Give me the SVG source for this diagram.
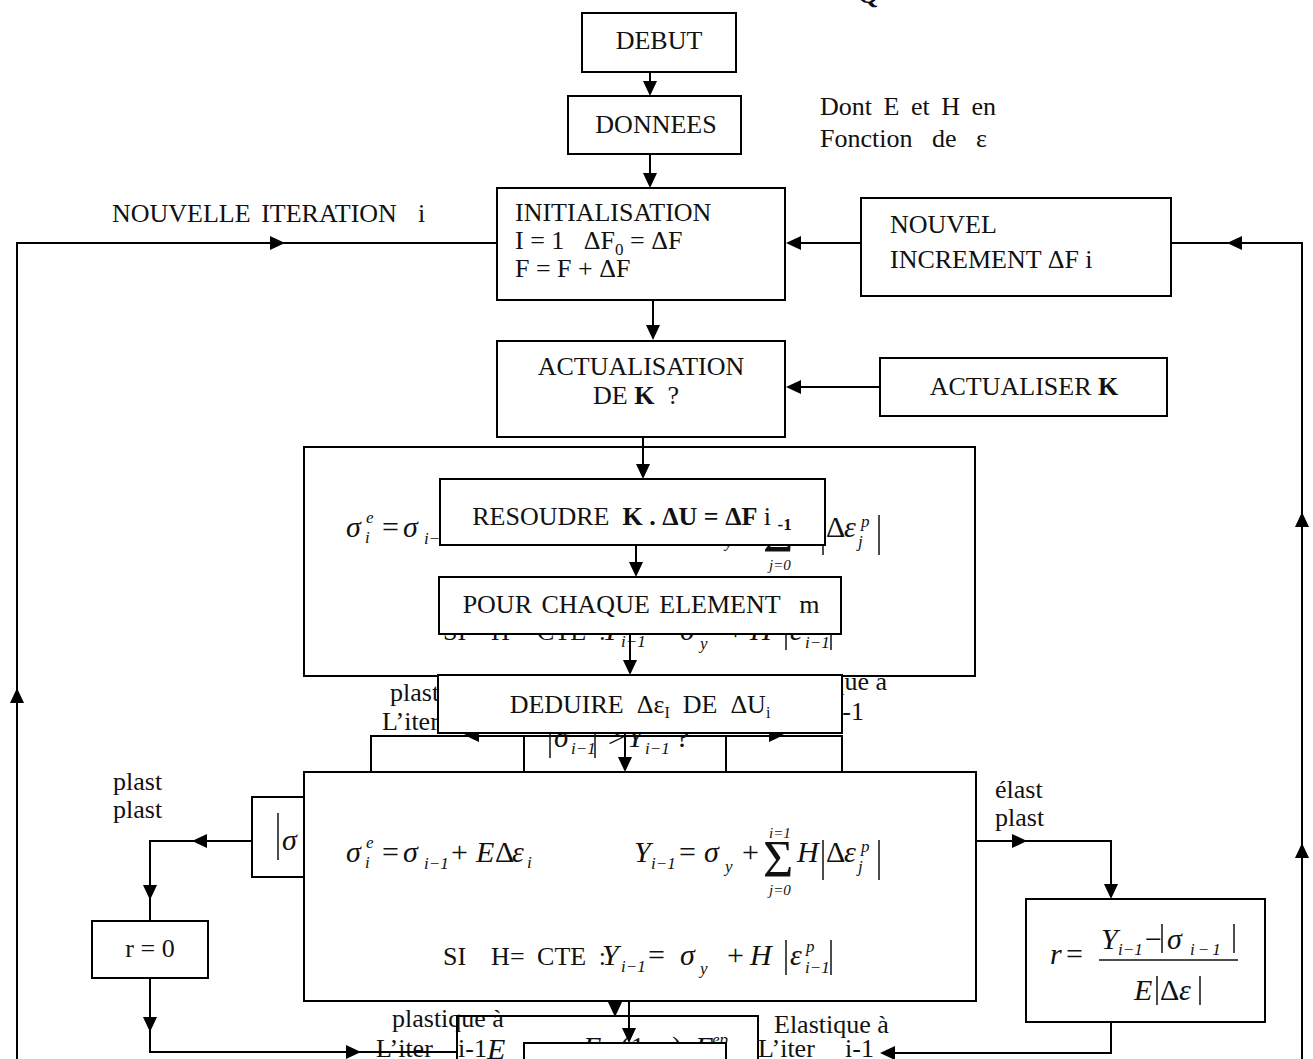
<svg xmlns="http://www.w3.org/2000/svg" xmlns:xlink="http://www.w3.org/1999/xlink" width="1313" height="1059" viewBox="0 0 1313 1059">
<style>
.b{fill:#fff;stroke:#000;stroke-width:2}
.o{fill:none;stroke:#000;stroke-width:2}
.c{fill:none;stroke:#000;stroke-width:2}
.t{font-family:"Liberation Serif","Times New Roman",serif;font-size:26px;fill:#111}
.m{font-family:"Liberation Serif","Times New Roman",serif;font-style:italic;font-size:30px;fill:#111}
.u{font-family:"Liberation Serif","Times New Roman",serif;font-size:30px;fill:#111}
.s{font-family:"Liberation Serif","Times New Roman",serif;font-style:italic;font-size:17px;fill:#111}
.sg{font-family:"Liberation Serif","Times New Roman",serif;font-size:52px;fill:#111}
.lim{font-family:"Liberation Serif","Times New Roman",serif;font-style:italic;font-size:15px;fill:#111}
.bar{stroke:#111;stroke-width:1.5}
.bd{font-weight:bold}
</style>
<defs>
<path id="ah" d="M0,0 L-15,-7 L-15,7 Z" fill="#000"/>
</defs>
<rect width="1313" height="1059" fill="#fff"/>

<text class="t bd" x="858" y="3">Q</text>

<g id="debut"><rect class="b" x="582" y="13" width="154" height="59"/><text class="t" x="659" y="49" text-anchor="middle">DEBUT</text></g>
<g id="donnees"><rect class="b" x="568" y="96" width="173" height="58"/><text class="t" x="656" y="133" text-anchor="middle">DONNEES</text></g>
<g id="note"><text class="t" x="820" y="115" word-spacing="5">Dont E et H en</text><text class="t" x="820" y="147" word-spacing="13">Fonction de ε</text></g>
<g id="nouvelle-iteration"><text class="t" x="112" y="222" xml:space="preserve" word-spacing="4">NOUVELLE ITERATION  i</text></g>
<g id="init"><rect class="b" x="497" y="188" width="288" height="112"/>
<text class="t" x="515" y="221">INITIALISATION</text>
<text class="t" x="515" y="249" xml:space="preserve">I = 1   ΔF<tspan font-size="17" dy="6">0</tspan><tspan dy="-6"> = ΔF</tspan></text>
<text class="t" x="515" y="277">F = F + ΔF</text></g>
<g id="nouvel"><rect class="b" x="861" y="198" width="310" height="98"/>
<text class="t" x="890" y="233">NOUVEL</text><text class="t" x="890" y="268">INCREMENT ΔF i</text></g>
<g id="actualisation"><rect class="b" x="497" y="341" width="288" height="96"/>
<text class="t" x="641" y="375" text-anchor="middle">ACTUALISATION</text>
<text class="t" x="636" y="404" text-anchor="middle" xml:space="preserve">DE <tspan class="bd">K</tspan>  ?</text></g>
<g id="actualiser"><rect class="b" x="880" y="358" width="287" height="58"/>
<text class="t" x="1024" y="395" text-anchor="middle">ACTUALISER <tspan class="bd">K</tspan></text></g>

<g id="hidden-decision">
<text class="t" x="390" y="701">plastique à</text>
<text class="t" x="382" y="730">L’iter</text>
<text class="t" x="887" y="690" text-anchor="end">Elastique à</text>
<text class="t" x="864" y="720" text-anchor="end">i-1</text>
<rect class="b" x="371" y="736" width="153" height="36"/>
<rect class="b" x="524" y="736" width="202" height="36"/>
<rect class="b" x="726" y="736" width="116" height="36"/>
<line class="bar" x1="550" y1="728" x2="550" y2="758"/>
<text class="m" x="554" y="747">σ</text><text class="s" x="571" y="754">i−1</text>
<line class="bar" x1="595" y1="728" x2="595" y2="758"/>
<text class="u" x="608" y="747">&gt;</text>
<text class="m" x="627" y="747">Y</text><text class="s" x="645" y="754">i−1</text>
<text class="u" x="676" y="747">?</text>
<use href="#ah" transform="translate(464,735) rotate(180)"/>
<use href="#ah" transform="translate(784,735)"/>
</g>

<g id="box1"><rect class="b" x="304" y="447" width="671" height="229"/>
<g transform="translate(0,-325)">
<text class="m" x="346" y="862">σ</text><text class="s" x="366" y="848">e</text><text class="s" x="365" y="868">i</text>
<text class="u" x="382" y="862">=</text><text class="m" x="403" y="862">σ</text><text class="s" x="424" y="869">i−1</text>
<text class="u" x="451" y="862">+</text><text class="m" x="476" y="862">E</text><text class="u" x="495" y="862">Δ</text><text class="m" x="512" y="862">ε</text><text class="s" x="527" y="868">i</text>
<text class="m" x="634" y="862">Y</text><text class="s" x="651" y="869">i−1</text>
<text class="u" x="679" y="862">=</text><text class="m" x="704" y="862">σ</text><text class="s" x="725" y="872">y</text>
<text class="u" x="742" y="862">+</text>
<text class="sg" x="763" y="877">Σ</text>
<text class="lim" x="769" y="838">i=1</text><text class="lim" x="769" y="895">j=0</text>
<text class="m" x="797" y="862">H</text>
<line class="bar" x1="823" y1="840" x2="823" y2="880"/>
<text class="u" x="826" y="862">Δ</text><text class="m" x="844" y="862">ε</text><text class="s" x="861" y="852">p</text><text class="s" x="858" y="872">j</text>
<line class="bar" x1="879" y1="840" x2="879" y2="880"/>
<text class="t" x="443" y="965" word-spacing="6" xml:space="preserve">SI  H= CTE :</text>
<text class="m" x="602" y="965">Y</text><text class="s" x="621" y="972">i−1</text>
<text class="u" x="648" y="965">=</text><text class="m" x="680" y="965">σ</text><text class="s" x="700" y="974">y</text>
<text class="u" x="727" y="965">+</text><text class="m" x="750" y="965">H</text>
<line class="bar" x1="786" y1="940" x2="786" y2="975"/>
<text class="m" x="790" y="965">ε</text><text class="s" x="806" y="952">p</text><text class="s" x="805" y="973">i−1</text>
<line class="bar" x1="831" y1="940" x2="831" y2="975"/>
</g></g>

<g id="resoudre"><rect class="b" x="440" y="479" width="385" height="66"/>
<text class="t" x="632" y="525" text-anchor="middle" xml:space="preserve">RESOUDRE  <tspan class="bd">K . ΔU = ΔF</tspan> i <tspan class="bd" font-size="17" dy="5">-1</tspan></text></g>
<g id="pour"><rect class="b" x="439" y="577" width="402" height="57"/>
<text class="t" x="641" y="613" text-anchor="middle" xml:space="preserve" word-spacing="3">POUR CHAQUE ELEMENT  m</text></g>
<g id="deduire"><rect class="b" x="438" y="675" width="404" height="58"/>
<text class="t" x="640" y="713" text-anchor="middle" xml:space="preserve">DEDUIRE  Δε<tspan font-size="16" dy="5">I</tspan><tspan dy="-5">  DE  ΔU</tspan><tspan font-size="16" dy="5">i</tspan></text></g>

<g id="sigma-box"><rect class="b" x="252" y="797" width="52" height="80"/>
<line class="bar" x1="278" y1="813" x2="278" y2="860"/><text class="m" x="282" y="850">σ</text></g>

<g id="box2"><rect class="b" x="304" y="772" width="672" height="229"/>
<text class="m" x="346" y="862">σ</text><text class="s" x="366" y="848">e</text><text class="s" x="365" y="868">i</text>
<text class="u" x="382" y="862">=</text><text class="m" x="403" y="862">σ</text><text class="s" x="424" y="869">i−1</text>
<text class="u" x="451" y="862">+</text><text class="m" x="476" y="862">E</text><text class="u" x="495" y="862">Δ</text><text class="m" x="512" y="862">ε</text><text class="s" x="527" y="868">i</text>
<text class="m" x="634" y="862">Y</text><text class="s" x="651" y="869">i−1</text>
<text class="u" x="679" y="862">=</text><text class="m" x="704" y="862">σ</text><text class="s" x="725" y="872">y</text>
<text class="u" x="742" y="862">+</text>
<text class="sg" x="763" y="877">Σ</text>
<text class="lim" x="769" y="838">i=1</text><text class="lim" x="769" y="895">j=0</text>
<text class="m" x="797" y="862">H</text>
<line class="bar" x1="823" y1="840" x2="823" y2="880"/>
<text class="u" x="826" y="862">Δ</text><text class="m" x="844" y="862">ε</text><text class="s" x="861" y="852">p</text><text class="s" x="858" y="872">j</text>
<line class="bar" x1="879" y1="840" x2="879" y2="880"/>
<text class="t" x="443" y="965" word-spacing="6" xml:space="preserve">SI  H= CTE :</text>
<text class="m" x="602" y="965">Y</text><text class="s" x="621" y="972">i−1</text>
<text class="u" x="648" y="965">=</text><text class="m" x="680" y="965">σ</text><text class="s" x="700" y="974">y</text>
<text class="u" x="727" y="965">+</text><text class="m" x="750" y="965">H</text>
<line class="bar" x1="786" y1="940" x2="786" y2="975"/>
<text class="m" x="790" y="965">ε</text><text class="s" x="806" y="952">p</text><text class="s" x="805" y="973">i−1</text>
<line class="bar" x1="831" y1="940" x2="831" y2="975"/>
</g>

<g id="labels-side">
<text class="t" x="113" y="790">plast</text><text class="t" x="113" y="818">plast</text>
<text class="t" x="995" y="798">élast</text><text class="t" x="995" y="826">plast</text>
</g>

<g id="r0"><rect class="b" x="92" y="921" width="116" height="57"/><text class="t" x="150" y="957" text-anchor="middle">r = 0</text></g>

<g id="rbox"><rect class="b" x="1026" y="899" width="239" height="123"/>
<text class="m" x="1050" y="964">r</text><text class="u" x="1066" y="964">=</text>
<line x1="1099" y1="960" x2="1238" y2="960" stroke="#111" stroke-width="1.5"/>
<text class="m" x="1101" y="949">Y</text><text class="s" x="1118" y="955">i−1</text>
<text class="u" x="1145" y="949">−</text>
<line class="bar" x1="1162" y1="924" x2="1162" y2="953"/>
<text class="m" x="1167" y="949">σ</text><text class="s" x="1190" y="955" letter-spacing="3">i−1</text>
<line class="bar" x1="1234" y1="924" x2="1234" y2="953"/>
<text class="m" x="1134" y="1000">E</text>
<line class="bar" x1="1157" y1="976" x2="1157" y2="1005"/>
<text class="u" x="1160" y="1000">Δ</text><text class="m" x="1179" y="1000">ε</text>
<line class="bar" x1="1200" y1="976" x2="1200" y2="1005"/>
</g>

<g id="bottom">
<text class="t" x="392" y="1027">plastique à</text>
<text class="t" x="376" y="1057">L’iter</text><text class="t" x="458" y="1057">i-1</text>
<text class="m" x="487" y="1059">E</text>
<text class="t" x="774" y="1033">Elastique à</text>
<text class="t" x="758" y="1057">L’iter</text><text class="t" x="845" y="1057">i-1</text>
<path class="o" d="M457,1059 V1016 H758 V1059"/>
<text class="m" x="583" y="1057">E</text><text class="s" x="601" y="1063">t</text><text class="u" x="606" y="1057">=</text>
<text class="u" x="620" y="1057">(1−r)</text>
<text class="m" x="695" y="1057">E</text><text class="s" x="712" y="1045">ep</text>
<rect class="b" x="524" y="1043" width="202" height="30"/>
</g>

<g id="connectors">
<path class="c" d="M650,72 V90"/><use href="#ah" transform="translate(650,96) rotate(90)"/>
<path class="c" d="M650,154 V182"/><use href="#ah" transform="translate(650,188) rotate(90)"/>
<path class="c" d="M17,1059 V243 H497"/><use href="#ah" transform="translate(285,243)"/><use href="#ah" transform="translate(17,688) rotate(-90)"/>
<path class="c" d="M861,243 H790"/><use href="#ah" transform="translate(786,243) rotate(180)"/>
<path class="c" d="M1302,1059 V243 H1171"/><use href="#ah" transform="translate(1227,243) rotate(180)"/><use href="#ah" transform="translate(1302,512) rotate(-90)"/><use href="#ah" transform="translate(1302,843) rotate(-90)"/>
<path class="c" d="M653,300 V334"/><use href="#ah" transform="translate(653,340) rotate(90)"/>
<path class="c" d="M880,387 H790"/><use href="#ah" transform="translate(786,387) rotate(180)"/>
<path class="c" d="M643,437 V473"/><use href="#ah" transform="translate(643,479) rotate(90)"/>
<path class="c" d="M636,545 V571"/><use href="#ah" transform="translate(636,577) rotate(90)"/>
<path class="c" d="M630,634 V669"/><use href="#ah" transform="translate(630,675) rotate(90)"/>
<path class="c" d="M625,733 V766"/><use href="#ah" transform="translate(625,772) rotate(90)"/>
<path class="c" d="M252,841 H150 V921"/><use href="#ah" transform="translate(192,841) rotate(180)"/><use href="#ah" transform="translate(150,900) rotate(90)"/>
<path class="c" d="M150,978 V1052 H457"/><use href="#ah" transform="translate(150,1032) rotate(90)"/><use href="#ah" transform="translate(361,1052)"/>
<path class="c" d="M976,841 H1111 V893"/><use href="#ah" transform="translate(1027,841)"/><use href="#ah" transform="translate(1111,899) rotate(90)"/>
<path class="c" d="M1111,1022 V1053 H886"/><use href="#ah" transform="translate(880,1053) rotate(180)"/>
<path class="c" d="M615,1001 V1011"/><use href="#ah" transform="translate(615,1017) rotate(90)"/>
<path class="c" d="M629,1001 V1037"/><use href="#ah" transform="translate(629,1043) rotate(90)"/>
</g>
</svg>
